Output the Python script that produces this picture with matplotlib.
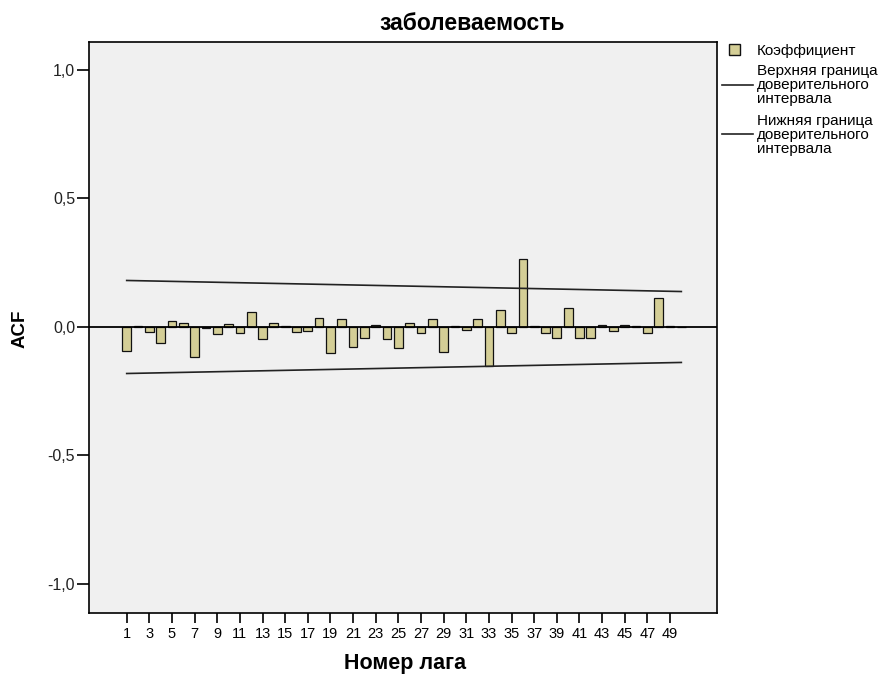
import matplotlib
matplotlib.use("Agg")
import matplotlib.pyplot as plt
from matplotlib.patches import Rectangle
from matplotlib.lines import Line2D

lags = list(range(1, 51))
acf = [-0.093, 0.003, -0.018, -0.063, 0.025, 0.014, -0.117, -0.005, -0.027, 0.013,
       -0.024, 0.058, -0.047, 0.014, 0.003, -0.020, -0.016, 0.035, -0.100, 0.030,
       -0.079, -0.041, 0.009, -0.047, -0.080, 0.014, -0.023, 0.033, -0.096, 0.003,
       -0.011, 0.033, -0.153, 0.068, -0.023, 0.266, 0.003, -0.024, -0.041, 0.074,
       -0.043, -0.043, 0.007, -0.014, 0.008, 0.003, -0.024, 0.114, 0.002, -0.002]
bound_lags = [1, 50]
upper = [0.181, 0.138]
lower = [-0.181, -0.138]
xticks = list(range(1, 50, 2))
yticks = [-1.0, -0.5, 0.0, 0.5, 1.0]
yticklabels = ["-1,0", "-0,5", "0,0", "0,5", "1,0"]
legend_labels = ['Коэффициент',
                 ['Верхняя граница', 'доверительного', 'интервала'],
                 ['Нижняя граница', 'доверительного', 'интервала']]

BAR = '#D4CE96'
W, H = 891, 675

plt.rcParams['font.family'] = ['Liberation Sans', 'DejaVu Sans']

fig = plt.figure(figsize=(8.91, 6.75), dpi=100)
ax = fig.add_axes([89/W, 1-613/H, (717-89)/W, (613-42)/H])
ax.set_facecolor('#F0F0F0')

ax.bar(lags, acf, width=0.77, color=BAR, edgecolor='#111111', linewidth=0.9, zorder=3)
ax.axhline(0, color='black', linewidth=1.3, zorder=4)
ax.plot(bound_lags, upper, color='#222222', linewidth=1.2, zorder=4)
ax.plot(bound_lags, lower, color='#222222', linewidth=1.2, zorder=4)

ax.set_xlim(-2.33, 53.15)
ax.set_ylim(-1.113, 1.109)
ax.set_xticks(xticks)
ax.set_xticklabels([str(t) for t in xticks], fontsize=10.5)
ax.set_yticks(yticks)
ax.set_yticklabels(yticklabels, fontsize=11.5, color='#222222')
ax.tick_params(axis='x', length=7, width=1.2, pad=3, direction='out')
ax.tick_params(axis='y', length=9, width=1.2, pad=1, direction='out')
for s in ax.spines.values():
    s.set_linewidth(1.2)
    s.set_color('black')

fig.text(405/W, 1-664/H, 'Номер лага', fontsize=15.5, fontweight='bold',
         ha='center', va='center')
fig.text(20/W, 1-329/H, 'ACF', fontsize=13.5, fontweight='bold',
         ha='center', va='center', rotation=90)
fig.text(472/W, 1-23/H, 'заболеваемость', fontsize=16.5, fontweight='bold',
         ha='center', va='center')

# legend (outside, right)
fig.add_artist(Rectangle((729/W, 1-55/H), 11/W, 11/H, transform=fig.transFigure,
                         facecolor=BAR, edgecolor='#111111', linewidth=1.0))
fig.text(757/W, 1-51/H, legend_labels[0], fontsize=11, ha='left', va='center')
for ly, ty0, lines in [(85, 71, legend_labels[1]), (134, 121, legend_labels[2])]:
    fig.add_artist(Line2D([722/W, 753/W], [1-ly/H, 1-ly/H], transform=fig.transFigure,
                          color='#222222', linewidth=1.2))
    for i, t in enumerate(lines):
        fig.text(757/W, 1-(ty0 + 14*i)/H, t, fontsize=11, ha='left', va='center')

fig.savefig('out.png', dpi=100, facecolor='white')
